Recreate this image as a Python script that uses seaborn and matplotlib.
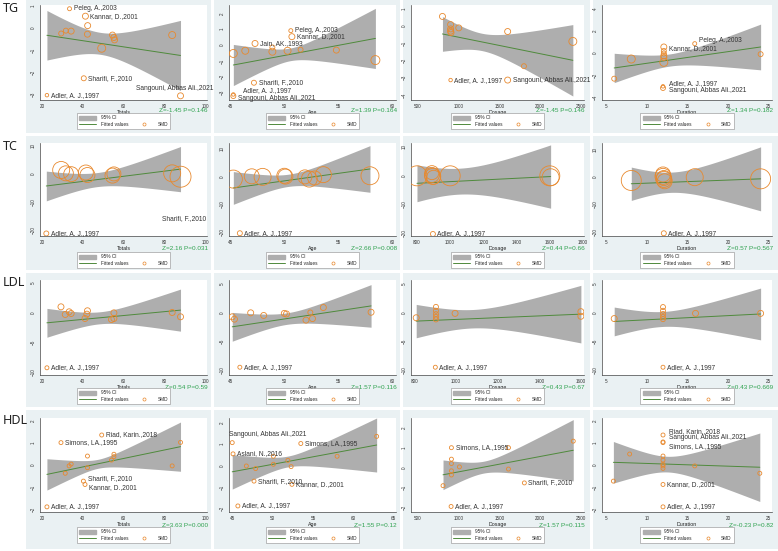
import numpy as np
import matplotlib
matplotlib.use("Agg")
import matplotlib.pyplot as plt
from matplotlib.patches import Rectangle, Patch
from matplotlib.lines import Line2D
import seaborn as sns

# ---- data: (x, SMD, weight, study label) per panel ----
TG_TOTALS = [(33.5, 0.88, 4, "Peleg, A.,2003"), (41.3, 0.54, 6, "Kannar, D.,2001"),
             (42.4, 0.11, 6, ""), (29.4, -0.25, 5, ""), (31.7, -0.12, 5, ""),
             (34.3, -0.14, 6, ""), (42.3, -0.28, 6, ""), (54.6, -0.32, 6, ""),
             (55.3, -0.43, 6, ""), (55.6, -0.54, 6, ""), (49.3, -0.92, 8, ""),
             (83.9, -0.32, 7, ""), (40.5, -2.29, 5, "Sharifi, F.,2010"),
             (22.4, -3.06, 3.5, "Adler, A. J.,1997"), (88.0, -3.09, 6, "Sangouni, Abbas Ali.,2021")]
TG_AGE = [(50.6, 0.91, 4, "Peleg, A.,2003"), (50.7, 0.53, 6, "Kannar, D.,2001"),
          (47.3, 0.10, 6, "Jain, AK.,1993"), (48.9, -0.15, 5, ""), (45.3, -0.53, 8, ""),
          (46.4, -0.36, 7, ""), (48.9, -0.42, 7, ""), (50.3, -0.36, 7, ""),
          (51.5, -0.29, 5, ""), (54.8, -0.32, 6, ""), (58.4, -0.95, 9, ""),
          (47.2, -2.38, 5, "Sharifi, F.,2010"), (45.3, -3.12, 3.5, "Adler, A. J.,1997"),
          (45.3, -3.22, 5, "Sangouni, Abbas Ali.,2021")]
TG_DOSAGE = [(800, 0.53, 6, ""), (900, 0.06, 6, ""), (900, -0.19, 6, ""), (900, -0.32, 6, ""),
             (905, -0.40, 6, ""), (1000, -0.13, 6, ""), (1600, -0.34, 6, ""),
             (2400, -0.91, 8, ""), (1800, -2.34, 5, ""),
             (900, -3.14, 3.5, "Adler, A. J.,1997"), (1600, -3.14, 6, "Sangouni, Abbas Ali.,2021")]
TG_DURATION = [(15.9, 0.86, 4, "Peleg, A.,2003"), (12.1, 0.56, 6, "Kannar, D.,2001"),
               (12.1, 0.2, 5, ""), (12.1, -0.03, 5, ""), (12.1, -0.24, 6, ""),
               (12.1, -0.39, 6, ""), (12.1, -0.83, 8, ""), (8.1, -0.53, 8, ""),
               (24.0, -0.09, 5, ""), (6.0, -2.31, 5, ""),
               (12.0, -3.0, 3.5, "Adler, A. J.,1997"), (12.0, -3.15, 5, "Sangouni, Abbas Ali.,2021")]

TC_TOTALS = [(29.4, 1.4, 17, ""), (31.7, 0.2, 15, ""), (34.3, -0.1, 15, ""), (41.5, 0.5, 15, ""),
             (42.3, -0.4, 15, ""), (54.6, -0.6, 15, ""), (55.3, 0.0, 14, ""), (83.9, 0.2, 17, ""),
             (88.0, -1.0, 21, ""), (78.0, -15.8, 0, "Sharifi, F.,2010"),
             (22.1, -21.2, 5, "Adler, A. J.,1997")]
TC_AGE = [(45.3, -1.0, 18, ""), (47.0, 0.0, 15, ""), (48.0, -0.2, 17, ""), (50.0, 0.2, 15, ""),
          (50.1, -0.1, 15, ""), (51.9, -0.2, 14, ""), (52.3, -1.0, 16, ""), (52.8, -0.6, 14, ""),
          (53.6, 0.6, 16, ""), (57.9, 0.2, 18, ""), (45.9, -20.5, 5, "Adler, A. J.,1997")]
TC_DOSAGE = [(800, -0.1, 20, ""), (890, 1.0, 14, ""), (890, 0.2, 15, ""), (895, -0.3, 16, ""),
             (900, -0.6, 14, ""), (1000, -0.1, 20, ""), (1600, -0.1, 20, ""), (1605, -0.6, 17, ""),
             (896, -20.3, 5, "Adler, A. J.,1997")]
TC_DURATION = [(8.1, -1.2, 20, ""), (12.0, 1.0, 15, ""), (12.0, 0.3, 16, ""), (12.1, -0.3, 15, ""),
               (12.1, -0.8, 16, ""), (12.2, -1.5, 15, ""), (15.9, 0.0, 17, ""), (24.0, -0.6, 20, ""),
               (12.1, -20.5, 5, "Adler, A. J.,1997")]

LDL_TOTALS = [(29.3, 0.94, 6, ""), (31.4, -0.33, 6, ""), (33.3, 0.11, 6, ""), (34.3, -0.17, 6, ""),
              (42.3, 0.28, 6, ""), (42.0, -0.28, 6, ""), (41.1, -1.0, 6, ""), (55.3, -0.06, 6, ""),
              (54.1, -1.17, 6, ""), (55.3, -1.0, 6, ""), (83.9, 0.0, 6, ""), (88.0, -0.72, 6, ""),
              (22.4, -9.2, 4, "Adler, A. J.,1997")]
LDL_AGE = [(45.2, -0.69, 6, ""), (45.4, -1.1, 6, ""), (46.9, 0.0, 6, ""), (48.1, -0.46, 6, ""),
           (50.0, -0.1, 6, ""), (50.2, -0.2, 6, ""), (52.0, -1.27, 6, ""), (52.4, 0.06, 5, ""),
           (52.6, -1.0, 6, ""), (53.6, 0.92, 6, ""), (58.0, 0.1, 6, ""),
           (45.9, -9.45, 4, "Adler, A. J.,1997")]
LDL_DOSAGE = [(808, -0.86, 6, ""), (903, 1.03, 5, ""), (903, 0.35, 5, ""), (903, -0.23, 5, ""),
              (903, -0.7, 5, ""), (903, -1.15, 5, ""), (995, -0.1, 6, ""), (1600, 0.2, 6, ""),
              (1600, -0.6, 6, ""), (900, -9.45, 4, "Adler, A. J.,1997")]
LDL_DURATION = [(6.0, -1.0, 6, ""), (12.0, 1.0, 5, ""), (12.0, 0.35, 5, ""), (12.0, -0.2, 5, ""),
                (12.0, -0.7, 5, ""), (12.0, -1.1, 5, ""), (16.0, -0.1, 6, ""), (24.0, -0.1, 6, ""),
                (12.0, -9.45, 4, "Adler, A. J.,1997")]

HDL_TOTALS = [(49.3, 1.34, 4, "Riad, Karin.,2018"), (29.3, 1.0, 4, "Simons, LA.,1995"),
              (88.0, 1.01, 4, ""), (42.3, 0.4, 4, ""), (55.3, 0.48, 4, ""), (55.3, 0.37, 4, ""),
              (54.1, 0.22, 4, ""), (34.3, 0.04, 4, ""), (33.3, -0.04, 4, ""), (42.3, -0.12, 4, ""),
              (31.4, -0.37, 4, ""), (83.9, -0.04, 4, ""), (40.3, -0.72, 4, "Sharifi, F.,2010"),
              (41.1, -0.87, 4, "Kannar, D.,2001"), (22.4, -1.87, 4, "Adler, A. J.,1997")]
HDL_AGE = [(45.0, 1.06, 4, "Sangouni, Abbas Ali.,2021"), (45.1, 0.54, 4, "Aslani, N.,2016"),
           (53.5, 1.02, 4, "Simons, LA.,1995"), (62.9, 1.35, 4, ""), (58.0, 0.43, 4, ""),
           (50.1, 0.43, 4, ""), (50.1, 0.06, 4, ""), (46.75, -0.02, 4, ""), (47.9, -0.14, 4, ""),
           (51.9, 0.24, 4, ""), (52.3, -0.05, 4, ""), (47.7, -0.72, 4, "Sharifi, F.,2010"),
           (52.4, -0.87, 4, "Kannar, D.,2001"), (45.7, -1.87, 4, "Adler, A. J.,1997")]
HDL_DOSAGE = [(910, 1.0, 4, "Simons, LA.,1995"), (1610, 1.0, 4, ""), (2405, 1.33, 4, ""),
              (910, 0.42, 4, ""), (910, 0.2, 4, ""), (910, -0.17, 4, ""), (910, -0.38, 4, ""),
              (1008, 0.03, 4, ""), (1610, -0.08, 4, ""), (807, -0.92, 4, ""),
              (1805, -0.78, 4, "Sharifi, F.,2010"), (906, -1.97, 4, "Adler, A. J.,1997")]
HDL_DURATION = [(12.0, 1.34, 4, "Riad, Karin.,2018"), (12.0, 1.03, 4, "Sangouni, Abbas Ali.,2021"),
                (12.0, 1.0, 4, "Simons, LA.,1995"), (12.0, 0.4, 4, ""), (12.0, 0.22, 4, ""),
                (12.0, 0.03, 4, ""), (12.0, -0.04, 4, ""), (12.0, -0.15, 4, ""), (7.9, 0.49, 4, ""),
                (15.9, -0.04, 4, ""), (23.9, -0.37, 4, ""), (5.9, -0.72, 4, ""),
                (12.0, -0.87, 4, "Kannar, D.,2001"), (12.0, -1.87, 4, "Adler, A. J.,1997")]

# fitted line: SMD at min(x), max(x);  95% CI half-width: at min(x), narrowest, at max(x)
TG_FIT = [[-0.33, -1.25], [-1.26, 0.42], [-0.48, -2.0], [-1.34, 0.56]]
TG_CI = [[1.13, 0.5, 1.6], [1.3, 0.4, 1.9], [1.0, 0.5, 2.06], [1.33, 0.55, 2.07]]
TC_FIT = [[-4.3, 1.7], [-4.2, 2.65], [-2.7, -0.35], [-2.4, -0.6]]
TC_CI = [[5.3, 2.5, 8.05], [5.9, 2.2, 8.4], [6.4, 4.5, 11.0], [6.1, 3.7, 11.7]]
LDL_FIT = [[-1.72, 0.39], [-2.43, 1.2], [-1.44, -0.23], [-1.5, -0.2]]
LDL_CI = [[2.4, 1.0, 3.5], [2.5, 1.0, 3.7], [2.9, 1.6, 5.0], [2.5, 1.3, 4.5]]
HDL_FIT = [[-0.42, 0.82], [-0.29, 0.95], [-0.37, 0.87], [0.12, -0.1]]
HDL_CI = [[0.7, 0.2, 1.1], [0.8, 0.25, 1.25], [0.75, 0.3, 1.55], [0.93, 0.35, 1.53]]

TG_Z = ["Z=-1.45 P=0.146", "Z=1.39 P=0.164", "Z=-1.45 P=0.146", "Z=1.34 P=0.182"]
TC_Z = ["Z=2.16 P=0.031", "Z=2.66 P=0.008", "Z=0.44 P=0.66", "Z=0.57 P=0.567"]
LDL_Z = ["Z=0.54 P=0.59", "Z=1.57 P=0.116", "Z=0.43 P=0.67", "Z=0.43 P=0.669"]
HDL_Z = ["Z=3.63 P=0.000", "Z=1.55 P=0.12", "Z=1.57 P=0.115", "Z=-0.23 P=0.82"]

ROWS = ["TG", "TC", "LDL", "HDL"]
COLS = ["Totals", "Age", "Dosage", "Duration"]
POINTS = [[TG_TOTALS, TG_AGE, TG_DOSAGE, TG_DURATION],
          [TC_TOTALS, TC_AGE, TC_DOSAGE, TC_DURATION],
          [LDL_TOTALS, LDL_AGE, LDL_DOSAGE, LDL_DURATION],
          [HDL_TOTALS, HDL_AGE, HDL_DOSAGE, HDL_DURATION]]
FITS = [TG_FIT, TC_FIT, LDL_FIT, HDL_FIT]
CIS = [TG_CI, TC_CI, LDL_CI, HDL_CI]
ZS = [TG_Z, TC_Z, LDL_Z, HDL_Z]

# ---- axes setup (limits / ticks) ----
YLIM = [[(-3.28, 1.05), (-3.47, 2.53), (-4.29, 1.19), (-4.24, 4.36)],
        [(-22.1, 11), (-21.5, 12), (-21, 11.3), (-21.5, 12.5)],
        [(-10.4, 5.4), (-10.8, 5.7), (-10.8, 5.7), (-10.8, 5.7)],
        [(-2.1, 2.1), (-2.15, 2.2), (-2.25, 2.5), (-2.1, 2.1)]]
YTICKS = [[[-3, -2, -1, 0, 1], [-3, -2, -1, 0, 1, 2], [-4, -3, -2, -1, 0, 1], [-4, -2, 0, 2, 4]],
          [[-20, -10, 0, 10]] * 4,
          [[-10, -5, 0, 5]] * 4,
          [[-2, -1, 0, 1, 2]] * 4]
XLIM = [[(19, 101), (44.9, 60.3), (414, 2537), (4.5, 25.4)],
        [(19, 101), (44.9, 60.3), (764, 1806), (4.5, 25.4)],
        [(19, 101), (44.9, 60.3), (783, 1615), (4.5, 25.4)],
        [(19, 101), (44.6, 65.3), (414, 2537), (4.5, 25.4)]]
XTICKS = [[[20, 40, 60, 80, 100], [45, 50, 55, 60], [500, 1000, 1500, 2000, 2500], [5, 10, 15, 20, 25]],
          [[20, 40, 60, 80, 100], [45, 50, 55, 60], [800, 1000, 1200, 1400, 1600, 1800], [5, 10, 15, 20, 25]],
          [[20, 40, 60, 80, 100], [45, 50, 55, 60], [800, 1000, 1200, 1400, 1600], [5, 10, 15, 20, 25]],
          [[20, 40, 60, 80, 100], [45, 50, 55, 60, 65], [500, 1000, 1500, 2000, 2500], [5, 10, 15, 20, 25]]]

# label nudges (points): (row, col, label) -> (dx, dy, ha)
NUDGE = {
    (0, 0, "Sangouni, Abbas Ali.,2021"): (-4, 5, "center"),
    (0, 1, "Adler, A. J.,1997"): (7, 2.8, "left"),
    (0, 1, "Sangouni, Abbas Ali.,2021"): (3.5, -2, "left"),
    (0, 3, "Peleg, A.,2003"): (3, 2.5, "left"),
    (0, 3, "Kannar, D.,2001"): (3.5, -1, "left"),
    (0, 3, "Adler, A. J.,1997"): (4, 2, "left"),
    (0, 3, "Sangouni, Abbas Ali.,2021"): (4, -2, "left"),
    (3, 0, "Sharifi, F.,2010"): (3, 1.5, "left"),
    (3, 0, "Kannar, D.,2001"): (3, -2, "left"),
    (3, 1, "Sangouni, Abbas Ali.,2021"): (-2, 6, "left"),
    (3, 3, "Riad, Karin.,2018"): (4, 2.5, "left"),
    (3, 3, "Sangouni, Abbas Ali.,2021"): (4, 3, "left"),
    (3, 3, "Simons, LA.,1995"): (4, -3, "left"),
}

# ---- layout in pixels ----
W, H = 778, 551
PLOT_X = [(40, 207), (229, 396), (411, 584), (602, 772)]
PLOT_Y = [(5, 100), (143, 236), (280, 375), (418, 512)]
BG_X = [(26, 211), (214, 400), (403, 590), (593, 778)]
BG_Y = [(0, 133), (136, 270), (273, 407), (410, 549)]
LEG_Y = [121, 260, 396, 535]
Z_Y = [110.5, 248.5, 387.5, 525.5]
ROWLAB_Y = [9, 147, 283, 421]

ORANGE = "#E8892E"
LINE_GREEN = "#4F8A3C"
CI_GRAY = "#AEAEAE"
Z_GREEN = "#2FA24F"
PANEL_BG = "#EAF1F3"
NARROW = ["Liberation Sans Narrow", "Liberation Sans", "DejaVu Sans"]

sns.set_style("white")
plt.rcParams["font.family"] = ["Liberation Sans", "DejaVu Sans"]


def fx(x):
    return x / W


def fy(y):
    return 1 - y / H


def ci_band(xs, grid, fit, ci):
    xl, xr = min(xs), max(xs)
    wl, w0, wr = ci
    a = np.sqrt(max(wl ** 2 - w0 ** 2, 0))
    b = np.sqrt(max(wr ** 2 - w0 ** 2, 0))
    k = (a + b) / (xr - xl)
    x0 = xl + a / k
    half = np.sqrt(w0 ** 2 + (k * (grid - x0)) ** 2)
    yfit = fit[0] + (fit[1] - fit[0]) * (grid - xl) / (xr - xl)
    return yfit, yfit - half, yfit + half


fig = plt.figure(figsize=(W / 100, H / 100), dpi=100)
fig.patch.set_facecolor("white")

for r in range(4):
    for c in range(4):
        x0, x1 = BG_X[c]
        y0, y1 = BG_Y[r]
        fig.patches.append(Rectangle((fx(x0), fy(y1)), (x1 - x0) / W, (y1 - y0) / H,
                                     transform=fig.transFigure, facecolor=PANEL_BG,
                                     edgecolor="none", zorder=-5))
    fig.text(fx(3), fy(ROWLAB_Y[r]), ROWS[r], fontsize=9, ha="left", va="center",
             family=["Noto Sans", "DejaVu Sans"], color="#222222")

legend_handles = [Patch(facecolor=CI_GRAY, edgecolor=CI_GRAY),
                  Line2D([], [], color=LINE_GREEN, lw=0.7),
                  Line2D([], [], linestyle="none"),
                  Line2D([], [], linestyle="none", marker="o", markersize=2.2,
                         markerfacecolor="none", markeredgecolor=ORANGE, markeredgewidth=0.5)]
legend_labels = ["95% CI", "Fitted values", "", "SMD"]

for r in range(4):
    for c in range(4):
        pl, pr = PLOT_X[c]
        pt, pb = PLOT_Y[r]
        ax = fig.add_axes([fx(pl), fy(pb), (pr - pl) / W, (pb - pt) / H])
        ax.set_facecolor("white")
        pts = POINTS[r][c]
        xs = np.array([p[0] for p in pts], dtype=float)
        ys = np.array([p[1] for p in pts], dtype=float)
        ws = np.array([p[2] for p in pts], dtype=float)
        real = ws > 0

        grid = np.linspace(xs[real].min(), xs[real].max(), 120)
        yfit, lo, hi = ci_band(xs[real], grid, FITS[r][c], CIS[r][c])
        ax.fill_between(grid, lo, hi, color=CI_GRAY, lw=0, zorder=1)
        sns.lineplot(x=grid, y=yfit, color=LINE_GREEN, lw=0.7, ax=ax, zorder=2)
        sns.scatterplot(x=xs[real], y=ys[real], s=(ws[real] * 0.72) ** 2, facecolors="none",
                        edgecolor=ORANGE, linewidth=0.6, ax=ax, legend=False, zorder=3)

        for x, y, w, lab in pts:
            if not lab:
                continue
            dx, dy, ha = NUDGE.get((r, c, lab), (w * 0.36 + 1.5, 0, "left"))
            ax.annotate(lab, (x, y), xytext=(dx, dy), textcoords="offset points",
                        fontsize=4.8, ha=ha, va="center", family=NARROW, color="#333333",
                        zorder=4, annotation_clip=False)

        ax.set_xlim(*XLIM[r][c])
        ax.set_ylim(*YLIM[r][c])
        ax.set_xticks(XTICKS[r][c])
        ax.set_yticks(YTICKS[r][c])
        ax.tick_params(axis="both", labelsize=3.3, length=2, width=0.4, pad=0.8, colors="#333333")
        plt.setp(ax.get_yticklabels(), rotation=90, va="center")
        ax.set_xlabel(COLS[c], fontsize=3.8, labelpad=0.8, color="#222222")
        ax.set_ylabel("")
        for s in ["top", "right"]:
            ax.spines[s].set_visible(False)
        for s in ["left", "bottom"]:
            ax.spines[s].set_linewidth(0.5)
            ax.spines[s].set_color("#444444")

        fig.text(fx(pr + 1), fy(Z_Y[r]), ZS[r][c], fontsize=4.6, color=Z_GREEN,
                 ha="right", va="center", family=NARROW)

        leg = fig.legend(legend_handles, legend_labels, loc="center",
                         bbox_to_anchor=(fx((pl + pr) / 2), fy(LEG_Y[r])), ncol=2,
                         fontsize=3.4, frameon=True, fancybox=False, framealpha=1,
                         borderpad=0.5, handlelength=3.6, handleheight=0.9,
                         handletextpad=1.0, columnspacing=1.6, labelspacing=0.3)
        leg.get_frame().set_edgecolor("#8C8C8C")
        leg.get_frame().set_linewidth(0.4)

fig.savefig("out.png", dpi=100)
